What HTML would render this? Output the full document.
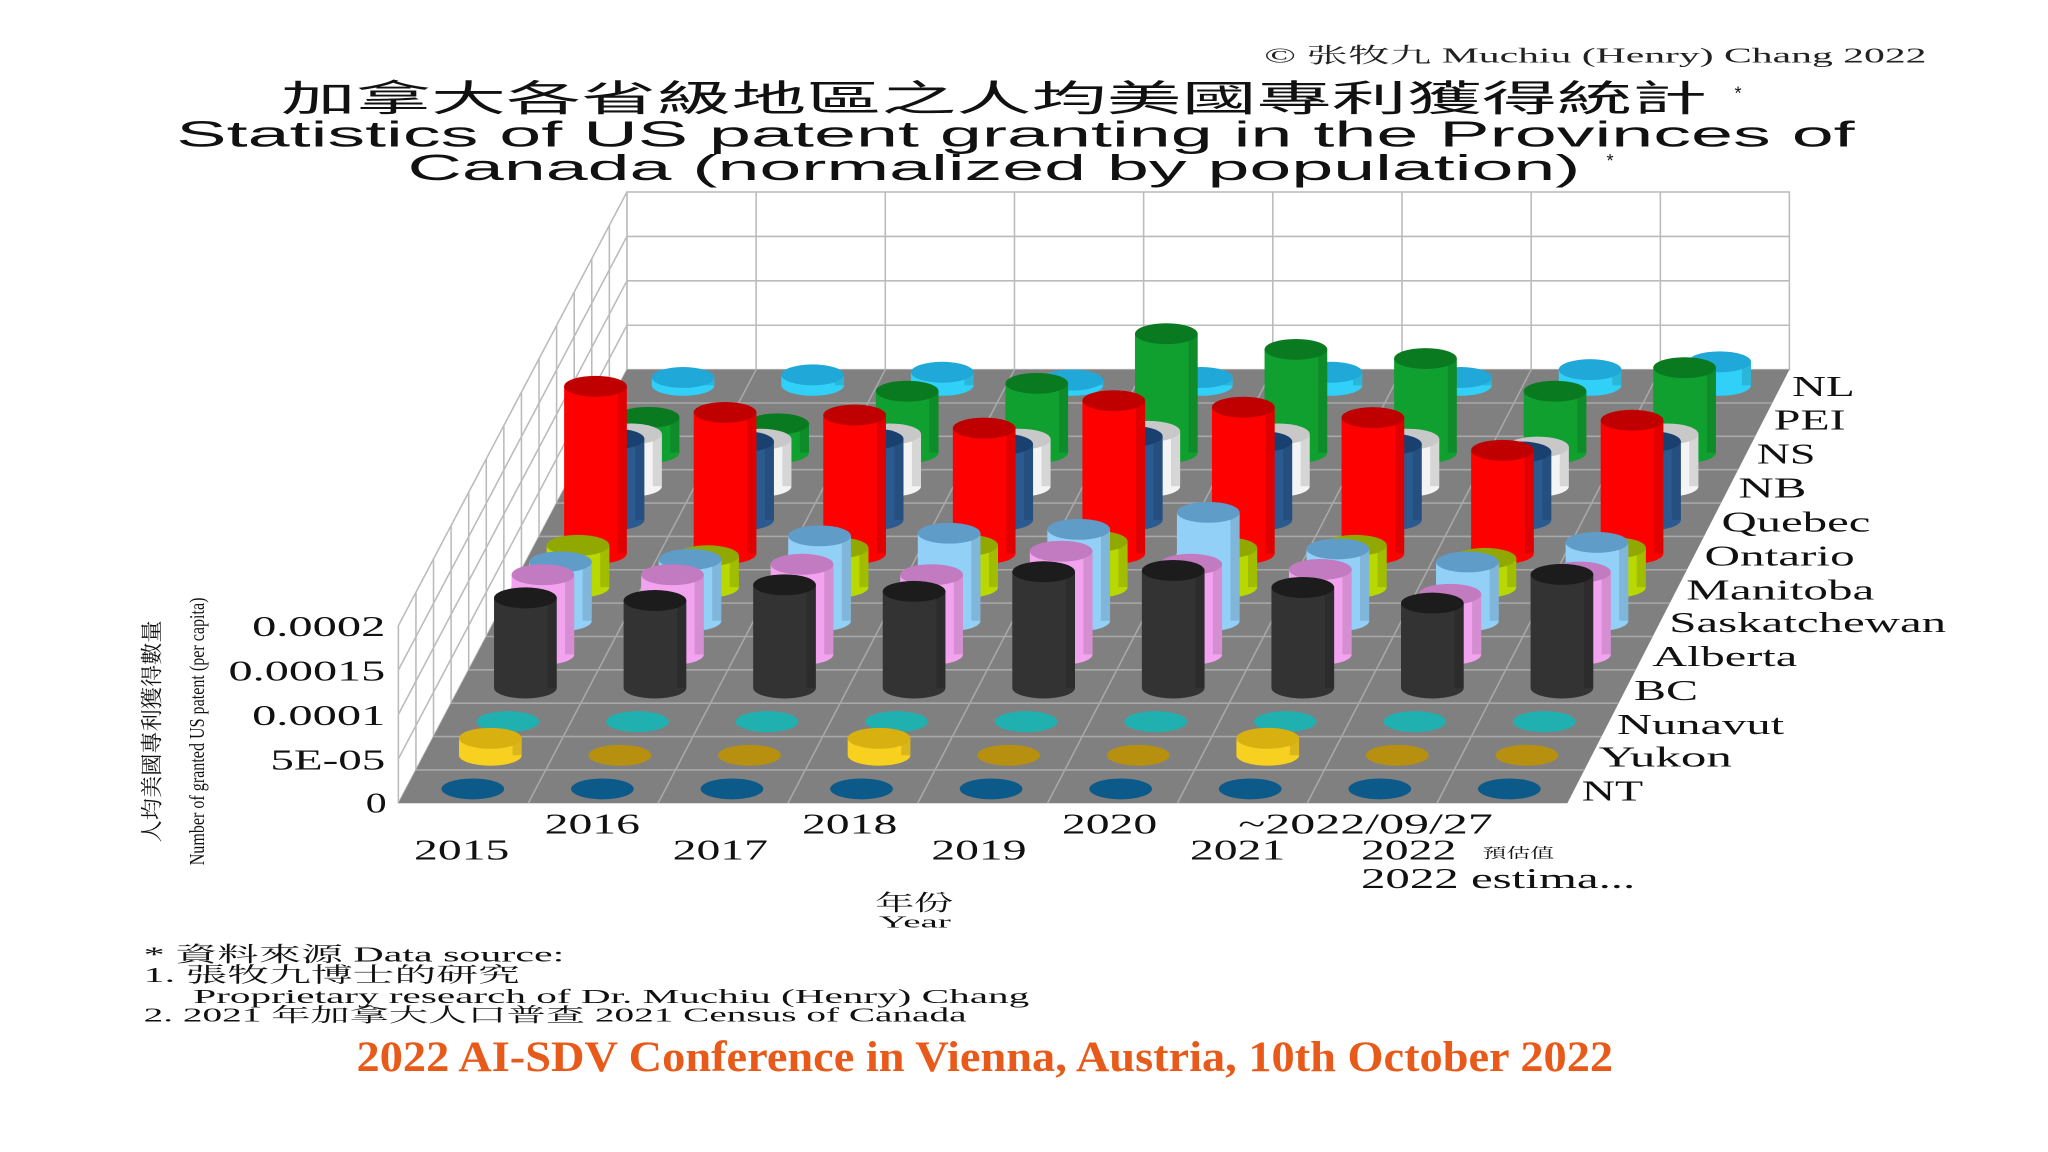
<!DOCTYPE html>
<html><head><meta charset="utf-8"><style>
html,body{margin:0;padding:0;background:#fff;width:2048px;height:1152px;overflow:hidden}
svg{display:block}
</style></head><body>
<svg id="s" width="2048" height="1152" viewBox="0 0 1568 882" xmlns="http://www.w3.org/2000/svg">
<rect width="1568" height="882" fill="#fff"/>
<g id="grid"></g>
<g id="bars"></g>
<g font-family="'Liberation Serif','Noto Serif CJK SC',serif" fill="#222">
<text x="968" y="48" font-size="16" textLength="507" lengthAdjust="spacingAndGlyphs">© 张牧九 Muchiu (Henry) Chang 2022</text>
</g>
<g font-family="'Liberation Sans','Noto Sans CJK TC',sans-serif" fill="#111">
<text x="215" y="85" font-size="28" textLength="1092" lengthAdjust="spacingAndGlyphs">加拿大各省級地區之人均美國專利獲得統計</text>
<text x="1328" y="76" font-size="14">*</text>
<text x="135" y="112" font-size="28" textLength="1285" lengthAdjust="spacingAndGlyphs">Statistics of US patent granting in the Provinces of</text>
<text x="312" y="138" font-size="28" textLength="898" lengthAdjust="spacingAndGlyphs">Canada (normalized by population)</text>
<text x="1230" y="128" font-size="14">*</text>
</g>
<g font-family="'Liberation Serif','Noto Serif CJK TC',serif" fill="#111" font-size="22">
<text lengthAdjust="spacingAndGlyphs" x="1372" y="303" textLength="48">NL</text>
<text lengthAdjust="spacingAndGlyphs" x="1358" y="329" textLength="55">PEI</text>
<text lengthAdjust="spacingAndGlyphs" x="1345" y="355" textLength="45">NS</text>
<text lengthAdjust="spacingAndGlyphs" x="1331" y="381" textLength="52">NB</text>
<text lengthAdjust="spacingAndGlyphs" x="1318" y="407" textLength="114">Quebec</text>
<text lengthAdjust="spacingAndGlyphs" x="1305" y="433" textLength="115">Ontario</text>
<text lengthAdjust="spacingAndGlyphs" x="1291" y="459" textLength="144">Manitoba</text>
<text lengthAdjust="spacingAndGlyphs" x="1278" y="484" textLength="212">Saskatchewan</text>
<text lengthAdjust="spacingAndGlyphs" x="1265" y="510" textLength="111">Alberta</text>
<text lengthAdjust="spacingAndGlyphs" x="1251" y="536" textLength="49">BC</text>
<text lengthAdjust="spacingAndGlyphs" x="1238" y="562" textLength="128">Nunavut</text>
<text lengthAdjust="spacingAndGlyphs" x="1224" y="587" textLength="102">Yukon</text>
<text lengthAdjust="spacingAndGlyphs" x="1211" y="613" textLength="47">NT</text>
<text lengthAdjust="spacingAndGlyphs" x="193" y="487" textLength="102">0.0002</text>
<text lengthAdjust="spacingAndGlyphs" x="175" y="521" textLength="120">0.00015</text>
<text lengthAdjust="spacingAndGlyphs" x="193" y="555" textLength="102">0.0001</text>
<text lengthAdjust="spacingAndGlyphs" x="207" y="589" textLength="88">5E-05</text>
<text lengthAdjust="spacingAndGlyphs" x="280" y="622" textLength="16">0</text>
<text lengthAdjust="spacingAndGlyphs" x="317" y="658" textLength="73">2015</text>
<text lengthAdjust="spacingAndGlyphs" x="417" y="638" textLength="73">2016</text>
<text lengthAdjust="spacingAndGlyphs" x="515" y="658" textLength="73">2017</text>
<text lengthAdjust="spacingAndGlyphs" x="614" y="638" textLength="73">2018</text>
<text lengthAdjust="spacingAndGlyphs" x="713" y="658" textLength="73">2019</text>
<text lengthAdjust="spacingAndGlyphs" x="813" y="638" textLength="73">2020</text>
<text lengthAdjust="spacingAndGlyphs" x="911" y="658" textLength="73">2021</text>
<text lengthAdjust="spacingAndGlyphs" x="948" y="638" textLength="195">~2022/09/27</text>
<text lengthAdjust="spacingAndGlyphs" x="1042" y="658" textLength="73">2022</text>
<text lengthAdjust="spacingAndGlyphs" x="1042" y="680" textLength="210">2022 estima...</text>
<text lengthAdjust="spacingAndGlyphs" x="1135" y="657" font-size="11" textLength="55">預估值</text>
<text lengthAdjust="spacingAndGlyphs" x="670" y="697" font-size="17" textLength="60">年份</text>
<text lengthAdjust="spacingAndGlyphs" x="673" y="710" font-size="13" textLength="55">Year</text>
<text transform="translate(122,560) rotate(-90)" font-size="17" text-anchor="middle">人均美國專利獲得數量</text>
<text transform="translate(156,560) rotate(-90)" font-size="16" text-anchor="middle" textLength="205" lengthAdjust="spacingAndGlyphs">Number of granted US patent (per capita)</text>
<text lengthAdjust="spacingAndGlyphs" x="110" y="736" font-size="16" textLength="322">* 資料來源  Data source:</text>
<text lengthAdjust="spacingAndGlyphs" x="110" y="752" font-size="16" textLength="288">1. 張牧九博士的研究</text>
<text lengthAdjust="spacingAndGlyphs" x="148" y="768" font-size="15" textLength="640">Proprietary research of Dr. Muchiu (Henry) Chang</text>
<text lengthAdjust="spacingAndGlyphs" x="110" y="782" font-size="15" textLength="630">2. 2021 年加拿大人口普查  2021 Census of Canada</text>
<text lengthAdjust="spacingAndGlyphs" x="273" y="820" font-size="33" font-weight="bold" fill="#e85a1a" textLength="962">2022 AI-SDV Conference in Vienna, Austria, 10th October 2022</text>
</g>
</svg>
<script>
(function(){
var NS="http://www.w3.org/2000/svg";
function el(p,t,a){var e=document.createElementNS(NS,t);for(var k in a)e.setAttribute(k,a[k]);p.appendChild(e);return e;}
var g=document.getElementById('grid'),b=document.getElementById('bars');
el(g,'rect',{x:480,y:147,width:890,height:136,fill:'#fff',stroke:'#bbb','stroke-width':1.2});
for(var i=1;i<4;i++){var y=147+34*i;el(g,'line',{x1:480,y1:y,x2:1370,y2:y,stroke:'#bbb','stroke-width':1.2});}
for(var c=1;c<9;c++){var x=480+98.9*c;el(g,'line',{x1:x,y1:147,x2:x,y2:283,stroke:'#bbb','stroke-width':1.2});}
el(g,'polygon',{points:'305,615 305,479 480,147 480,283',fill:'#fff',stroke:'#bbb','stroke-width':1.2});
for(var i=1;i<4;i++){el(g,'line',{x1:305,y1:615-34*i,x2:480,y2:283-34*i,stroke:'#bbb','stroke-width':1.2});}
for(var k=1;k<13;k++){var t=k/13;var x=305+175*t,y=615-332*t;el(g,'line',{x1:x,y1:y,x2:x,y2:y-136,stroke:'#bbb','stroke-width':1.2});}
el(g,'polygon',{points:'305,615 1200,615 1370,283 480,283',fill:'#808080'});
for(var k=1;k<13;k++){var t=k/13;var y=615-332*t;el(g,'line',{x1:305+175*t,y1:y,x2:1200+170*t,y2:y,stroke:'#a8a8a8','stroke-width':1.2});}
for(var c=1;c<9;c++){el(g,'line',{x1:305+99.4*c,y1:615,x2:480+98.9*c,y2:283,stroke:'#a8a8a8','stroke-width':1.2});}
var R=[
['#0b5a8a','#0b5a8a',[0,0,0,0,0,0,0,0,0]],
['#f8d020','#d8b010',[13,0,0,13,0,0,13,0,0],'#b89010'],
['#20b0b0','#20b0b0',[0,0,0,0,0,0,0,0,0]],
['#333','#1c1c1c',[69,67,79,74,89,90,77,65,87]],
['#f2a2ee','#c27ac0',[61,61,69,61,79,69,65,46,63]],
['#92d0f8','#5f9cc8',[45,47,65,67,70,83,55,45,60]],
['#b8d800','#90a800',[32,24,30,32,35,30,32,22,30]],
['#ff0000','#c00000',[128,108,106,96,117,112,104,79,102]],
['#2a5a90','#1a4070',[62,60,62,58,64,60,58,52,60]],
['#f4f4f4','#c8c8c8',[40,36,40,36,42,40,36,30,40]],
['#10a030','#0a7a20',[27,22,47,53,91,79,72,47,65]],
['#10a030','#0a7a20',[0,0,0,0,0,0,0,0,0]],
['#30d0f8','#20a8d8',[6,8,10,4,6,10,6,12,18]]
];
var rx=24,ry=8;
for(var r=12;r>=0;r--){
 var d=R[r];var by=604-25.75*r;
 for(var c=0;c<9;c++){
  var cx=362+(161/12)*r+99.2*c;var h=d[2][c];
  if(r==11)continue;
  if(h<=0){el(b,'ellipse',{cx:cx,cy:by,rx:rx,ry:ry,fill:d[3]||d[0]});continue;}
  var ty=by-h;
  el(b,'path',{d:'M'+(cx-rx)+','+ty+' L'+(cx-rx)+','+by+' A'+rx+','+ry+' 0 0 0 '+(cx+rx)+','+by+' L'+(cx+rx)+','+ty+' Z',fill:d[0]});
  el(b,'rect',{x:cx+rx-7,y:ty,width:7,height:h,fill:'#000',opacity:0.12});
  el(b,'ellipse',{cx:cx,cy:ty,rx:rx,ry:ry,fill:d[1]});
 }
}
})();
</script>
</body></html>
